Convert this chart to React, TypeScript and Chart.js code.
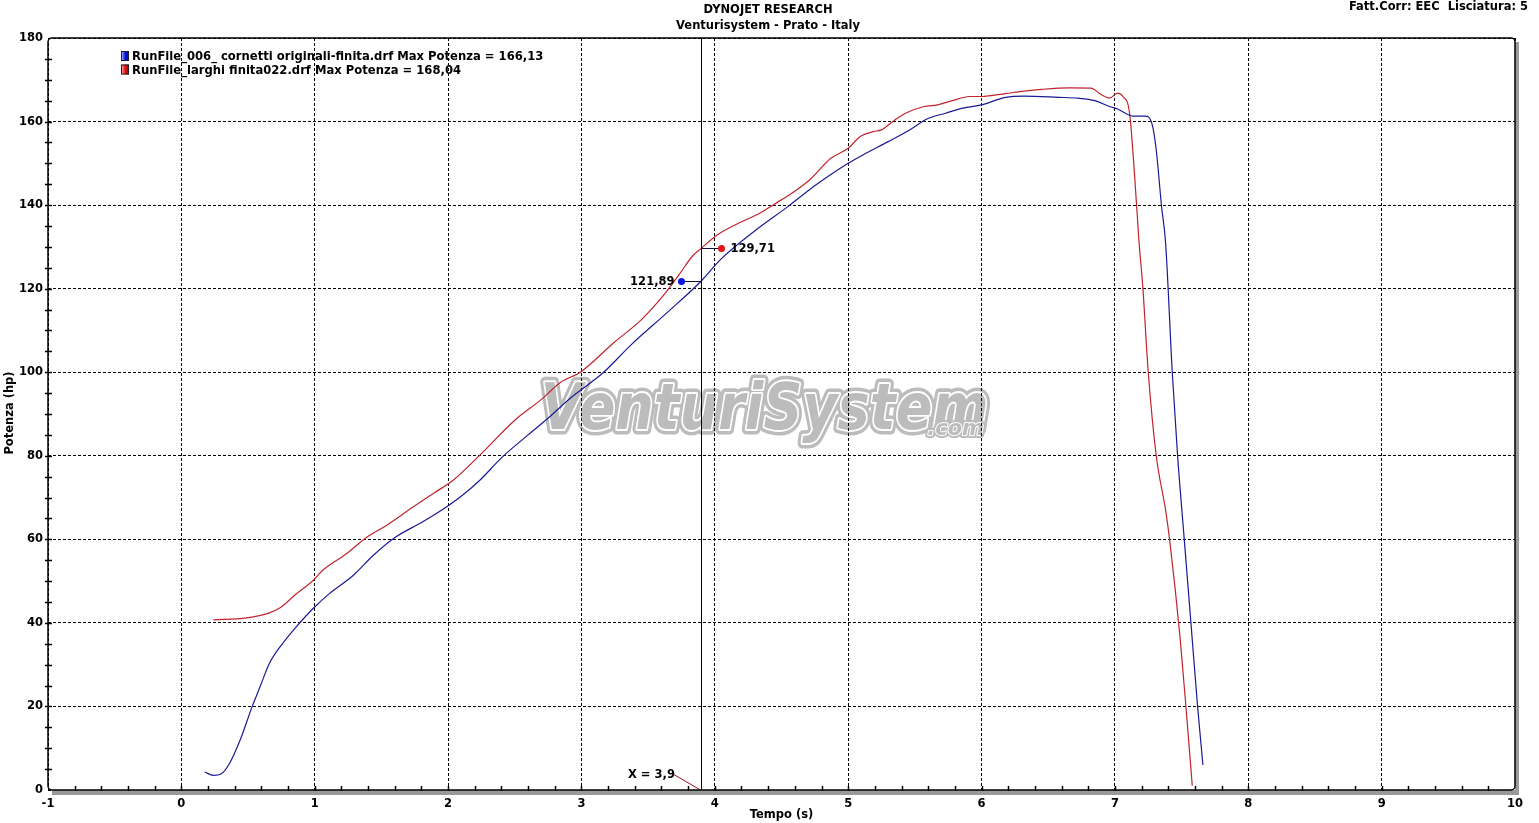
import React, { useEffect, useRef } from "react";
import { Chart, registerables } from "chart.js";

Chart.register(...registerables);

const FONT = '"DejaVu Sans", Verdana, sans-serif';

// ---- data (time s, power hp) ----
const blueX = [0.175, 0.24, 0.3, 0.36, 0.44, 0.53, 0.59, 0.66, 0.76, 0.86, 0.99, 1.11, 1.29, 1.44, 1.61, 1.81, 1.99, 2.11, 2.24, 2.4, 2.6, 2.76, 2.92, 3.16, 3.37, 3.64, 3.9, 4.04, 4.31, 4.55, 4.71, 4.87, 5.0, 5.11, 5.3, 5.46, 5.59, 5.73, 5.86, 6.0, 6.18, 6.32, 6.58, 6.72, 6.85, 6.96, 7.02, 7.14, 7.23, 7.28, 7.31, 7.35, 7.38, 7.43, 7.47, 7.52, 7.57, 7.62, 7.66];
const blueY = [4.3, 3.5, 3.9, 6.3, 11.9, 19.9, 24.7, 30.3, 35.1, 39.0, 43.5, 47.0, 51.4, 56.2, 60.6, 64.2, 67.8, 70.6, 74.2, 79.5, 85.0, 89.3, 93.9, 99.8, 106.5, 114.2, 121.89, 126.9, 134.1, 139.7, 143.7, 147.3, 150.0, 152.0, 155.2, 158.0, 160.6, 162.0, 163.2, 164.0, 165.8, 166.1, 165.8, 165.6, 165.0, 163.6, 163.0, 161.3, 161.3, 159.2, 153.2, 139.6, 131.0, 100.0, 80.0, 60.0, 40.0, 20.0, 6.0];

const redX = [0.24, 0.49, 0.66, 0.74, 0.86, 0.99, 1.06, 1.24, 1.39, 1.54, 1.74, 1.89, 2.04, 2.24, 2.5, 2.7, 2.84, 3.0, 3.24, 3.45, 3.61, 3.74, 3.83, 3.9, 4.02, 4.18, 4.34, 4.44, 4.58, 4.71, 4.87, 5.0, 5.09, 5.19, 5.25, 5.35, 5.43, 5.57, 5.67, 5.78, 5.91, 6.0, 6.18, 6.32, 6.45, 6.66, 6.82, 6.9, 6.96, 7.02, 7.06, 7.11, 7.15, 7.18, 7.21, 7.25, 7.31, 7.38, 7.41, 7.49, 7.54, 7.58];
const redY = [40.7, 41.2, 42.4, 43.6, 46.9, 50.2, 52.6, 56.6, 60.5, 63.4, 67.8, 71.0, 74.2, 80.2, 88.5, 93.5, 97.5, 100.2, 107.0, 112.6, 118.2, 123.7, 127.7, 129.71, 132.9, 135.7, 138.1, 140.1, 142.9, 146.0, 151.2, 153.6, 156.4, 157.6, 158.0, 160.4, 162.0, 163.6, 164.0, 165.0, 166.0, 166.0, 166.7, 167.3, 167.7, 168.04, 168.0, 166.4, 165.6, 166.8, 166.0, 162.0, 146.0, 131.6, 120.0, 100.0, 80.0, 67.0, 60.0, 36.0, 17.0, 1.0];

const seriesNames = [
  "RunFile_006_ cornetti originali-finita.drf Max Potenza = 166,13",
  "RunFile_larghi finita022.drf Max Potenza = 168,04",
];
const seriesColors = ["#1a1a96", "#c0242c"];
const markerColors = ["#0b14e6", "#e61414"];

const cursorX = 3.9;
const readouts = [121.89, 129.71];

const xRange = [-1, 10];
const yRange = [0, 180];
const xStep = 1;
const yStep = 20;
const xMinor = 0.2;
const yMinor = 5;

const titleLines = ["DYNOJET RESEARCH", "Venturisystem - Prato - Italy"];
const cornerText = "Fatt.Corr: EEC  Lisciatura: 5";
const xTitle = "Tempo (s)";
const yTitle = "Potenza (hp)";
const logoText = "VenturiSystem";
const logoSub = ".com";

const fmt = (v: number, d: number) => v.toFixed(d).replace(".", ",");

const overlay = {
  id: "overlay",
  beforeDraw(chart: any) {
    const { ctx, chartArea: a } = chart;
    ctx.save();
    // watermark logo
    const cx = a.left + (a.right - a.left) * 0.3345;
    ctx.font = `italic bold 58px ${FONT}`;
    const w = ctx.measureText(logoText).width;
    ctx.translate(cx + 2, 429);
    ctx.scale(448 / w, 1.1);
    ctx.lineJoin = "round";
    ctx.lineWidth = 10;
    ctx.strokeStyle = "#bcbcbc";
    ctx.strokeText(logoText, 0, 0);
    ctx.lineWidth = 3.5;
    ctx.strokeStyle = "#ffffff";
    ctx.strokeText(logoText, 0, 0);
    ctx.fillStyle = "#bcbcbc";
    ctx.fillText(logoText, 0, 0);
    ctx.restore();
    ctx.save();
    ctx.font = `italic bold 21px ${FONT}`;
    ctx.textAlign = "right";
    ctx.lineJoin = "round";
    ctx.lineWidth = 6;
    ctx.strokeStyle = "#bcbcbc";
    ctx.strokeText(logoSub, 984, 435);
    ctx.lineWidth = 2;
    ctx.strokeStyle = "#ffffff";
    ctx.strokeText(logoSub, 984, 435);
    ctx.fillStyle = "#bcbcbc";
    ctx.fillText(logoSub, 984, 435);
    ctx.restore();
  },
  afterDatasetsDraw(chart: any) {
    const { ctx, chartArea: a, scales } = chart;
    const xs = scales.x, ys = scales.y;
    ctx.save();
    // cursor line
    const cxp = Math.round(xs.getPixelForValue(cursorX)) + 0.5;
    ctx.strokeStyle = "#000";
    ctx.lineWidth = 1;
    ctx.beginPath();
    ctx.moveTo(cxp, a.top);
    ctx.lineTo(cxp, a.bottom);
    ctx.stroke();
    // readout markers
    ctx.font = `bold 11.5px ${FONT}`;
    ctx.textBaseline = "middle";
    readouts.forEach((v, i) => {
      const py = Math.round(ys.getPixelForValue(v)) + 0.5;
      const dx = i === 0 ? -20 : 20;
      ctx.strokeStyle = "#101040";
      ctx.beginPath();
      ctx.moveTo(cxp, py);
      ctx.lineTo(cxp + dx, py);
      ctx.stroke();
      ctx.fillStyle = markerColors[i];
      ctx.beginPath();
      ctx.arc(cxp + dx, py, 3.5, 0, Math.PI * 2);
      ctx.fill();
      ctx.fillStyle = "#000";
      if (i === 0) {
        ctx.textAlign = "right";
        ctx.fillText(fmt(v, 2), cxp + dx - 7, py + 1);
      } else {
        ctx.textAlign = "left";
        ctx.fillText(fmt(v, 2), cxp + dx + 9, py + 1);
      }
    });
    // X = label
    ctx.textAlign = "left";
    ctx.fillText("X = " + fmt(cursorX, 1), 628, 775);
    ctx.strokeStyle = "#9a1020";
    ctx.beginPath();
    ctx.moveTo(673, 774);
    ctx.lineTo(cxp - 1, a.bottom);
    ctx.stroke();

    // frame: gray shadow bottom & right
    ctx.fillStyle = "#9a9a9a";
    ctx.fillRect(a.left + 4, a.bottom, a.right - a.left, 5);
    ctx.fillRect(a.right, a.top + 4, 4, a.bottom - a.top + 1);
    // black frame
    ctx.strokeStyle = "#000";
    ctx.lineWidth = 1.5;
    ctx.beginPath();
    (ctx as any).roundRect(a.left, a.top, a.right - a.left, a.bottom - a.top, 4);
    ctx.stroke();
    // minor ticks
    ctx.lineWidth = 1.5;
    ctx.beginPath();
    for (let v = yRange[0] + yMinor; v < yRange[1]; v += yMinor) {
      const py = Math.round(ys.getPixelForValue(v)) + 0.5;
      ctx.moveTo(a.left - 3, py);
      ctx.lineTo(a.left + 4, py);
    }
    for (let k = 1; k < Math.round((xRange[1] - xRange[0]) / xMinor); k++) {
      const v = xRange[0] + k * xMinor;
      const px = Math.round(xs.getPixelForValue(v)) + 0.5;
      ctx.moveTo(px, a.bottom - 4);
      ctx.lineTo(px, a.bottom + 1);
    }
    ctx.stroke();
    ctx.restore();
  },
  afterDraw(chart: any) {
    const { ctx, chartArea: a } = chart;
    ctx.save();
    ctx.fillStyle = "#000";
    ctx.font = `bold 11.5px ${FONT}`;
    ctx.textBaseline = "middle";
    ctx.textAlign = "center";
    ctx.fillText(titleLines[0], 768, 10);
    ctx.fillText(titleLines[1], 768, 26);
    ctx.textAlign = "right";
    ctx.fillText(cornerText, 1528, 7);
    // axis titles
    ctx.textAlign = "center";
    ctx.fillText(xTitle, (a.left + a.right) / 2, 815);
    ctx.save();
    ctx.translate(10, 413);
    ctx.rotate(-Math.PI / 2);
    ctx.fillText(yTitle, 0, 0);
    ctx.restore();
    // legend
    ctx.textAlign = "left";
    ctx.font = `bold 11.6px ${FONT}`;
    seriesNames.forEach((name, i) => {
      const cy = 56 + i * 13.5;
      const sx = 121, sy = cy - 5;
      const g = ctx.createLinearGradient(sx, 0, sx + 8, 0);
      g.addColorStop(0, i === 0 ? "#c8d0ff" : "#ffc8c8");
      g.addColorStop(0.5, markerColors[i]);
      g.addColorStop(1, i === 0 ? "#0000a0" : "#a00000");
      ctx.fillStyle = g;
      ctx.fillRect(sx, sy, 8, 10);
      ctx.strokeStyle = "#202020";
      ctx.lineWidth = 1;
      ctx.strokeRect(sx + 0.5, sy + 0.5, 7, 9);
      ctx.fillStyle = "#000";
      ctx.fillText(name, 132, cy + 1);
    });
    ctx.restore();
  },
};

export default function App() {
  const ref = useRef<HTMLCanvasElement | null>(null);
  useEffect(() => {
    if (!ref.current) return;
    const mk = (xa: number[], ya: number[]) => xa.map((x, i) => ({ x, y: ya[i] }));
    const tickFont = { family: FONT, size: 11.5, weight: "bold" };
    const chart = new Chart(ref.current, {
      type: "line",
      data: {
        datasets: [
          {
            label: seriesNames[0],
            data: mk(blueX, blueY),
            borderColor: seriesColors[0],
            borderWidth: 1.2,
            pointRadius: 0,
            cubicInterpolationMode: "monotone",
          },
          {
            label: seriesNames[1],
            data: mk(redX, redY),
            borderColor: seriesColors[1],
            borderWidth: 1.2,
            pointRadius: 0,
            cubicInterpolationMode: "monotone",
          },
        ],
      },
      options: {
        responsive: false,
        animation: false,
        events: [],
        layout: { padding: { left: 0, right: 24, top: 38, bottom: 0 } },
        plugins: { legend: { display: false }, tooltip: { enabled: false }, title: { display: false } },
        scales: {
          x: {
            type: "linear",
            min: xRange[0],
            max: xRange[1],
            ticks: { stepSize: xStep, color: "#000", font: tickFont, padding: 7, maxRotation: 0, autoSkip: false },
            grid: { color: "#000", lineWidth: 1, drawTicks: false },
            border: { display: false, dash: [3, 2] },
            afterFit: (s: any) => { s.height = 33; },
          },
          y: {
            type: "linear",
            min: yRange[0],
            max: yRange[1],
            ticks: { stepSize: yStep, color: "#000", font: tickFont, padding: 5 },
            grid: { color: "#000", lineWidth: 1, drawTicks: false },
            border: { display: false, dash: [3, 2] },
            afterFit: (s: any) => { s.width = 48; },
          },
        },
      },
      plugins: [overlay],
    } as any);
    return () => chart.destroy();
  }, []);
  return (
    <div style={{ position: "fixed", left: 0, top: 0, width: 1539, height: 823, background: "#fff" }}>
      <canvas ref={ref} width={1539} height={823} style={{ display: "block" }} />
    </div>
  );
}
